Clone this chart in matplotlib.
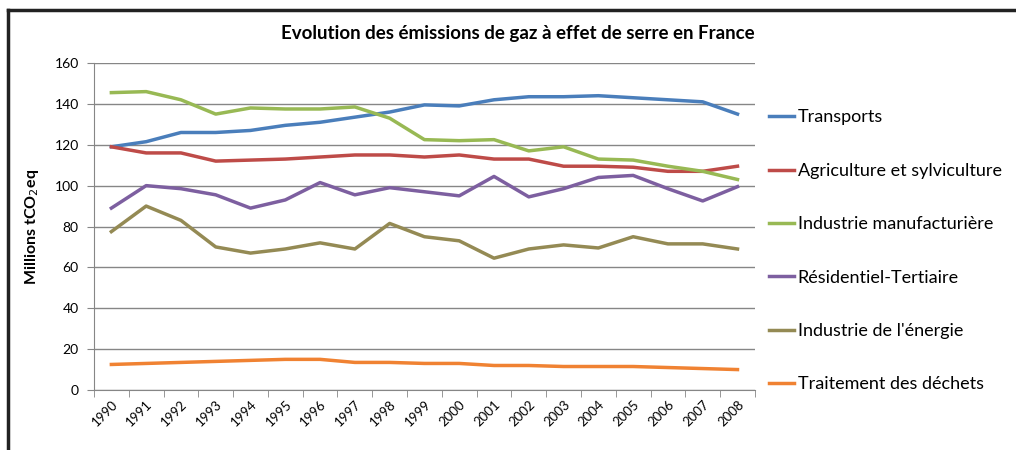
import matplotlib
matplotlib.use('Agg')
import matplotlib.pyplot as plt
import numpy as np

years = [str(y) for y in range(1990, 2009)]

transports = [119, 121.5, 126, 126, 127, 129.5, 131, 133.5, 136, 139.5,
              139, 142, 143.5, 143.5, 144, 143, 142, 141, 135]
agriculture = [119, 116, 116, 112, 112.5, 113, 114, 115, 115, 114,
               115, 113, 113, 109.5, 109.5, 109, 107, 107, 109.5]
industrie_manuf = [145.5, 146, 142, 135, 138, 137.5, 137.5, 138.5, 133, 122.5,
                   122, 122.5, 117, 119, 113, 112.5, 109.5, 107, 103]
residentiel = [89, 100, 98.5, 95.5, 89, 93, 101.5, 95.5, 99, 97,
               95, 104.5, 94.5, 98.5, 104, 105, 98.5, 92.5, 99.5]
energie = [77.5, 90, 83, 70, 67, 69, 72, 69, 81.5, 75,
           73, 64.5, 69, 71, 69.5, 75, 71.5, 71.5, 69]
dechets = [12.5, 13, 13.5, 14, 14.5, 15, 15, 13.5, 13.5, 13,
           13, 12, 12, 11.5, 11.5, 11.5, 11, 10.5, 10]

series = [
    ('Transports', transports, '#4a7ebb'),
    ('Agriculture et sylviculture', agriculture, '#be4b48'),
    ('Industrie manufacturière', industrie_manuf, '#98b954'),
    ('Résidentiel-Tertiaire', residentiel, '#7d5fa0'),
    ("Industrie de l'énergie", energie, '#948a54'),
    ('Traitement des déchets', dechets, '#f08232'),
]

plt.rcParams['font.family'] = ['Lato', 'DejaVu Sans']

fig = plt.figure(figsize=(10.16, 4.5), dpi=100)
ax = fig.add_axes([0.0925, 0.1333, 0.6505, 0.7267])

x = np.arange(len(years))
for name, vals, col in series:
    ax.plot(x, vals, color=col, lw=2.5, label=name)

ax.set_xlim(-0.5, len(years) - 0.5)
ax.set_ylim(0, 160)
ax.set_yticks(range(0, 161, 20))
ax.yaxis.grid(True, color='#868686', lw=1)
ax.set_axisbelow(True)
ax.set_xticks(x)
ax.set_xticklabels(years, rotation=45, ha='right', rotation_mode='anchor', fontsize=9.5)
ax.set_xticks(np.arange(-0.5, len(years)), minor=True)
ax.tick_params(axis='x', which='major', length=0, pad=6)
ax.tick_params(axis='x', which='minor', length=5, color='#868686', direction='out')
ax.tick_params(axis='y', length=5, color='#868686', labelsize=10, pad=6)
for s in ['top', 'right']:
    ax.spines[s].set_visible(False)
for s in ['left', 'bottom']:
    ax.spines[s].set_color('#868686')

ax.set_ylabel('Millions tCO$_2$eq', fontsize=11.5, fontweight='bold', labelpad=10)

fig.text(0.51, 0.925, 'Evolution des émissions de gaz à effet de serre en France',
         ha='center', va='center', fontsize=13.5, fontweight='bold')

ax.legend(loc='upper left', bbox_to_anchor=(1.01, 0.88), frameon=False,
          fontsize=13, handlelength=1.4, handletextpad=0.2, labelspacing=2.07,
          borderaxespad=0)

# frame of the original screenshot
fig.add_artist(plt.Line2D([0.008, 1.0], [0.978, 0.978], color='#222222', lw=2.5,
                          transform=fig.transFigure))
fig.add_artist(plt.Line2D([0.008, 0.008], [0.0, 0.978], color='#222222', lw=2.5,
                          transform=fig.transFigure))

fig.savefig('out.png', dpi=100)
